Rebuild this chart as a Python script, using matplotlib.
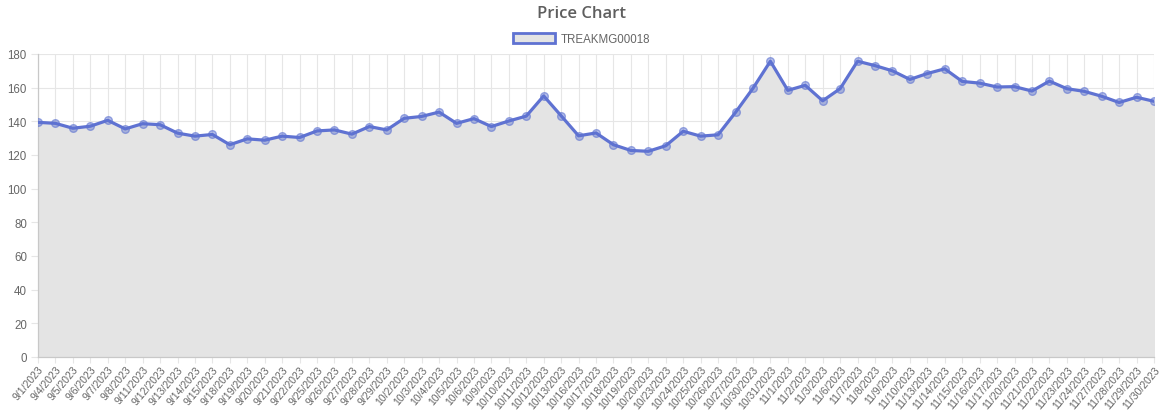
import matplotlib
matplotlib.use("Agg")
import matplotlib.pyplot as plt
from matplotlib.patches import Patch

dates = [
    "9/1/2023", "9/4/2023", "9/5/2023", "9/6/2023", "9/7/2023", "9/8/2023",
    "9/11/2023", "9/12/2023", "9/13/2023", "9/14/2023", "9/15/2023",
    "9/18/2023", "9/19/2023", "9/20/2023", "9/21/2023", "9/22/2023",
    "9/25/2023", "9/26/2023", "9/27/2023", "9/28/2023", "9/29/2023",
    "10/2/2023", "10/3/2023", "10/4/2023", "10/5/2023", "10/6/2023",
    "10/9/2023", "10/10/2023", "10/11/2023", "10/12/2023", "10/13/2023",
    "10/16/2023", "10/17/2023", "10/18/2023", "10/19/2023", "10/20/2023",
    "10/23/2023", "10/24/2023", "10/25/2023", "10/26/2023", "10/27/2023",
    "10/30/2023", "10/31/2023", "11/1/2023", "11/2/2023", "11/3/2023",
    "11/6/2023", "11/7/2023", "11/8/2023", "11/9/2023", "11/10/2023",
    "11/13/2023", "11/14/2023", "11/15/2023", "11/16/2023", "11/17/2023",
    "11/20/2023", "11/21/2023", "11/22/2023", "11/23/2023", "11/24/2023",
    "11/27/2023", "11/28/2023", "11/29/2023", "11/30/2023",
]
prices = [
    139.4, 138.8, 135.9, 137.1, 140.6, 135.5, 138.6, 138.0, 133.0, 131.2,
    132.2, 126.1, 129.6, 128.8, 131.2, 130.4, 134.3, 134.9, 132.4, 136.9,
    134.9, 141.8, 142.9, 145.5, 138.8, 141.6, 136.9, 140.2, 143.1, 155.1,
    143.3, 131.4, 133.1, 126.1, 122.7, 122.2, 125.5, 134.1, 131.2, 132.0,
    145.3, 159.6, 175.7, 158.4, 161.4, 152.2, 159.4, 175.7, 173.1, 170.0,
    164.9, 168.4, 171.2, 163.7, 162.7, 160.4, 160.6, 158.0, 163.9, 159.4,
    157.8, 154.9, 151.2, 154.3, 151.9,
]
series_name = "TREAKMG00018"

LINE = "#5f72d2"
FILL = "#e4e4e4"
GRID = "#e6e6e6"
TXT = "#666666"

plt.rcParams["font.family"] = ["Liberation Sans", "DejaVu Sans"]

fig = plt.figure(figsize=(11.63, 4.14), dpi=100)
ax = fig.add_axes([38 / 1163, 1 - 358 / 414, 1116 / 1163, 303 / 414])

x = list(range(len(prices)))
ax.fill_between(x, prices, 0, color=FILL, zorder=1)
ax.plot(x, prices, color=LINE, linewidth=2.3, zorder=3,
        marker="o", markersize=5.5, markerfacecolor=(0.37, 0.45, 0.82, 0.45),
        markeredgecolor=(0.37, 0.45, 0.82, 0.6), markeredgewidth=1)

ax.set_xlim(0, len(prices) - 1)
ax.set_ylim(0, 180)
ax.set_yticks(range(0, 181, 20))
ax.set_xticks(x)
ax.set_xticklabels(dates, rotation=50, ha="right", rotation_mode="anchor")
ax.tick_params(axis="both", labelsize=8.3, length=5, width=0.8)
ax.tick_params(axis="x", colors=GRID, labelcolor=TXT, labelsize=7.5, length=4, pad=1)
ax.tick_params(axis="y", colors=GRID, labelcolor=TXT, pad=3)
ax.grid(True, color=GRID, linewidth=0.8, zorder=0)
ax.set_axisbelow(True)
for s in ("top", "right"):
    ax.spines[s].set_visible(False)
for s in ("left", "bottom"):
    ax.spines[s].set_color("#c8c8c8")
    ax.spines[s].set_linewidth(0.9)

fig.text(0.5, 1 - 14 / 414, "Price Chart", ha="center", va="center",
         fontsize=12, fontweight="semibold", color="#5e5e5e",
         family=["Open Sans", "DejaVu Sans"])
handle = Patch(facecolor=FILL, edgecolor=LINE, linewidth=2)
fig.legend([handle], [series_name], loc="center", bbox_to_anchor=(0.5, 1 - 40 / 414),
           frameon=False, fontsize=8.3, labelcolor=TXT, handlelength=3.6,
           handleheight=1.0, handletextpad=0.5)

fig.savefig("out.png", dpi=100, facecolor="white")
